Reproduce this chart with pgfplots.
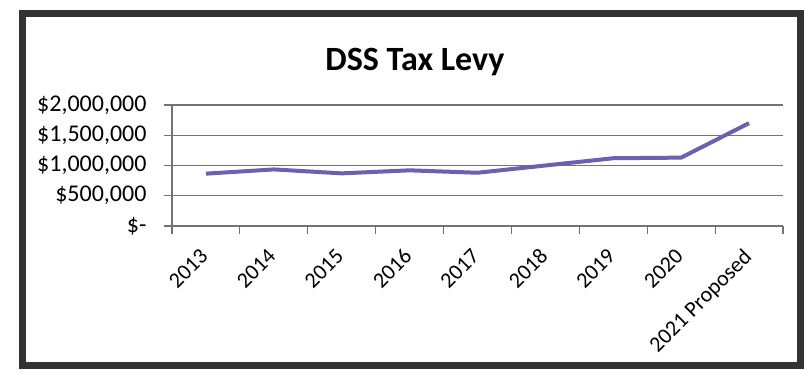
\documentclass[border=0pt]{standalone}
\usepackage{pgfplots}
\pgfplotsset{compat=1.18}
\usepackage{fontspec}
\setmainfont{Carlito}
\definecolor{linec}{RGB}{104,98,176}
\definecolor{gridc}{RGB}{115,115,115}
\begin{document}
\begin{tikzpicture}
\path[use as bounding box] (0,0) rectangle (804pt,374pt);
\fill[white] (0,0) rectangle (804pt,374pt);
\begin{axis}[
  at={(172pt,148pt)}, anchor=south west,
  scale only axis, width=611pt, height=121pt,
  xmin=-0.5, xmax=8.5, ymin=0, ymax=2000000,
  axis lines=left,
  axis line style={gridc, line width=1.2pt, -},
  tick style={gridc, line width=1.2pt},
  tick align=outside, major tick length=8pt,
  xtick={-0.5,0.5,...,8.5}, xticklabels={,,,,,,,,,},
  extra x ticks={0,1,2,3,4,5,6,7,8},
  extra x tick labels={2013,2014,2015,2016,2017,2018,2019,2020,2021 Proposed},
  extra x tick style={grid=none, major tick length=0pt},
  xticklabel style={rotate=45, anchor=north east, font=\fontsize{22}{22}\selectfont, inner sep=1pt, xshift=-19pt, yshift=-9pt},
  ytick={0,500000,1000000,1500000,2000000},
  yticklabels={{\$-},{\$500,000},{\$1,000,000},{\$1,500,000},{\$2,000,000}},
  scaled y ticks=false,
  yticklabel style={font=\fontsize{24}{24}\selectfont, xshift=-14pt},
  ymajorgrids, major grid style={gridc, line width=1.2pt},
]
\addplot[linec, line width=4pt, line join=round] coordinates {
(0,865000) (1,935000) (2,870000) (3,920000) (4,880000)
(5,1000000) (6,1120000) (7,1130000) (8,1700000)};
\end{axis}
\node[font=\fontsize{34}{34}\selectfont\bfseries] at (415pt,312pt) {DSS Tax Levy};
\draw[line width=7pt, black!80] (22pt,8pt) rectangle (800pt,360pt);
\end{tikzpicture}
\end{document}
